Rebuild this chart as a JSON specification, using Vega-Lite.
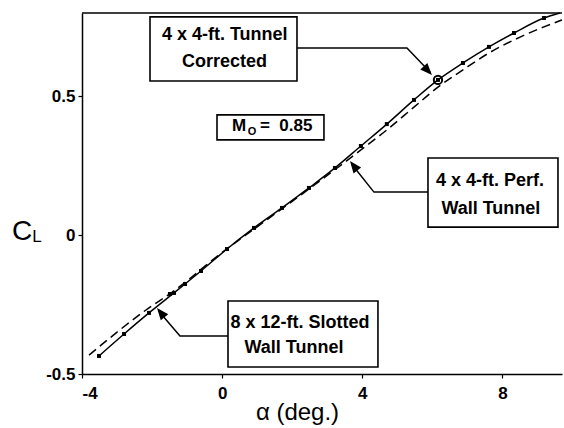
{
  "$schema": "https://vega.github.io/schema/vega-lite/v6.json",
  "width": 480,
  "height": 361,
  "autosize": {"type": "none"},
  "padding": {"left": 82, "top": 13, "right": 2, "bottom": 54},
  "background": "white",
  "config": {
    "view": {"stroke": null},
    "axis": {
      "grid": false,
      "domainColor": "black",
      "domainWidth": 1.5,
      "tickColor": "black",
      "tickWidth": 1.2,
      "tickSize": 4,
      "labelColor": "black",
      "labelFont": "Liberation Sans",
      "labelFontWeight": "bold",
      "labelFontSize": 17
    }
  },
  "datasets": {
    "perf_line": [
      {"a": -3.515, "cl": -0.435}, {"a": -2.8, "cl": -0.356}, {"a": -2.088, "cl": -0.28},
      {"a": -1.374, "cl": -0.208}, {"a": -1.06, "cl": -0.176}, {"a": -0.604, "cl": -0.129},
      {"a": 0.138, "cl": -0.05}, {"a": 0.909, "cl": 0.026}, {"a": 1.708, "cl": 0.098},
      {"a": 2.478, "cl": 0.17}, {"a": 3.22, "cl": 0.242}, {"a": 3.96, "cl": 0.321},
      {"a": 4.7, "cl": 0.4}, {"a": 5.475, "cl": 0.487}, {"a": 6.16, "cl": 0.559},
      {"a": 6.873, "cl": 0.62}, {"a": 7.615, "cl": 0.678}, {"a": 8.33, "cl": 0.728},
      {"a": 9.185, "cl": 0.782}, {"a": 9.64, "cl": 0.8}
    ],
    "perf_pts": [
      {"a": -3.515, "cl": -0.435}, {"a": -2.8, "cl": -0.356}, {"a": -2.088, "cl": -0.28},
      {"a": -1.49, "cl": -0.212}, {"a": -1.374, "cl": -0.208}, {"a": -1.06, "cl": -0.176}, {"a": -0.604, "cl": -0.129},
      {"a": 0.138, "cl": -0.05}, {"a": 0.909, "cl": 0.026}, {"a": 1.708, "cl": 0.098},
      {"a": 2.478, "cl": 0.17}, {"a": 3.22, "cl": 0.242}, {"a": 3.96, "cl": 0.321},
      {"a": 4.7, "cl": 0.4}, {"a": 5.475, "cl": 0.487}, {"a": 6.16, "cl": 0.559},
      {"a": 6.873, "cl": 0.62}, {"a": 7.615, "cl": 0.678}, {"a": 8.33, "cl": 0.728},
      {"a": 9.185, "cl": 0.782}
    ],
    "slotted": [
      {"a": -3.8, "cl": -0.432}, {"a": -2.09, "cl": -0.262}, {"a": -1.4, "cl": -0.203},
      {"a": 0, "cl": -0.062}, {"a": 1, "cl": 0.03}, {"a": 2, "cl": 0.122},
      {"a": 3, "cl": 0.215}, {"a": 3.96, "cl": 0.307}, {"a": 4.7, "cl": 0.379},
      {"a": 5.475, "cl": 0.461}, {"a": 6.16, "cl": 0.533}, {"a": 6.873, "cl": 0.595},
      {"a": 7.615, "cl": 0.656}, {"a": 8.33, "cl": 0.703}, {"a": 9.185, "cl": 0.75},
      {"a": 9.7, "cl": 0.775}
    ],
    "arrows": [
      {"arrow": 1, "k": 1, "a": 2.136, "cl": 0.674}, {"arrow": 1, "k": 2, "a": 5.275, "cl": 0.674}, {"arrow": 1, "k": 3, "a": 5.95, "cl": 0.585},
      {"arrow": 2, "k": 1, "a": 5.875, "cl": 0.155}, {"arrow": 2, "k": 2, "a": 4.333, "cl": 0.155}, {"arrow": 2, "k": 3, "a": 3.7, "cl": 0.255},
      {"arrow": 3, "k": 1, "a": 0.167, "cl": -0.363}, {"arrow": 3, "k": 2, "a": -1.203, "cl": -0.363}, {"arrow": 3, "k": 3, "a": -1.82, "cl": -0.272}
    ],
    "boxes": [
      {"a": -2.059, "a2": 2.136, "cl": 0.786, "cl2": 0.555},
      {"a": -0.147, "a2": 2.906, "cl": 0.433, "cl2": 0.343},
      {"a": 5.875, "a2": 9.585, "cl": 0.278, "cl2": 0.029},
      {"a": 0.167, "a2": 4.447, "cl": -0.237, "cl2": -0.475}
    ],
    "boxtext": [
      {"a": 0.075, "cl": 0.721, "txt": "4 x 4-ft. Tunnel"},
      {"a": 0.07, "cl": 0.624, "txt": "Corrected"},
      {"a": 7.645, "cl": 0.195, "txt": "4 x 4-ft. Perf."},
      {"a": 7.67, "cl": 0.094, "txt": "Wall Tunnel"},
      {"a": 2.22, "cl": -0.316, "txt": "8 x 12-ft. Slotted"},
      {"a": 2.05, "cl": -0.406, "txt": "Wall Tunnel"}
    ]
  },
  "encoding": {
    "x": {
      "field": "a", "type": "quantitative",
      "scale": {"domain": [-4, 9.7], "nice": false, "zero": false},
      "axis": {
        "values": [-4, 0, 4, 8],
        "labelExpr": "'' + datum.value",
        "labelPadding": 7,
        "title": "α (deg.)",
        "titleFont": "Liberation Sans",
        "titleFontWeight": "normal",
        "titleFontSize": 24,
        "titleColor": "black",
        "titleX": 215,
        "titleY": 45,
        "titleBaseline": "alphabetic"
      }
    },
    "y": {
      "field": "cl", "type": "quantitative",
      "scale": {"domain": [-0.5, 0.8], "nice": false, "zero": false},
      "axis": {
        "values": [-0.5, 0, 0.5],
        "labelExpr": "'' + datum.value",
        "labelPadding": 3,
        "title": null
      }
    }
  },
  "layer": [
    {
      "data": {"values": [{"a": -4, "a2": 9.7, "cl": 0.8}]},
      "mark": {"type": "rule", "color": "black", "strokeWidth": 1.5},
      "encoding": {"x2": {"field": "a2"}}
    },
    {
      "data": {"name": "slotted"},
      "mark": {"type": "line", "color": "black", "strokeWidth": 1.5, "strokeDash": [9, 5], "interpolate": "monotone"}
    },
    {
      "data": {"name": "perf_line"},
      "mark": {"type": "line", "color": "black", "strokeWidth": 1.5, "interpolate": "monotone"}
    },
    {
      "data": {"name": "perf_pts"},
      "mark": {"type": "point", "shape": "square", "filled": true, "color": "black", "size": 16, "opacity": 1}
    },
    {
      "data": {"values": [{"a": 6.16, "cl": 0.559}]},
      "mark": {"type": "point", "shape": "circle", "filled": false, "color": "black", "strokeWidth": 2, "size": 70, "opacity": 1}
    },
    {
      "data": {"name": "arrows"},
      "mark": {"type": "line", "color": "black", "strokeWidth": 1.5},
      "encoding": {"detail": {"field": "arrow"}, "order": {"field": "k", "type": "quantitative"}}
    },
    {
      "data": {"values": [{"a": 5.989, "cl": 0.577}]},
      "mark": {"type": "point", "shape": "M0,0L-0.8,2L0.8,2Z", "filled": true, "color": "black", "size": 144, "angle": 137, "opacity": 1}
    },
    {
      "data": {"values": [{"a": 3.648, "cl": 0.267}]},
      "mark": {"type": "point", "shape": "M0,0L-0.8,2L0.8,2Z", "filled": true, "color": "black", "size": 144, "angle": -38, "opacity": 1}
    },
    {
      "data": {"values": [{"a": -1.86, "cl": -0.262}]},
      "mark": {"type": "point", "shape": "M0,0L-0.8,2L0.8,2Z", "filled": true, "color": "black", "size": 144, "angle": -39, "opacity": 1}
    },
    {
      "data": {"name": "boxes"},
      "mark": {"type": "rect", "fill": "white", "stroke": "black", "strokeWidth": 1.6},
      "encoding": {"x2": {"field": "a2"}, "y2": {"field": "cl2"}}
    },
    {
      "data": {"name": "boxtext"},
      "mark": {"type": "text", "font": "Liberation Sans", "fontWeight": "bold", "fontSize": 18, "color": "black", "align": "center", "baseline": "middle"},
      "encoding": {"text": {"field": "txt"}}
    },
    {
      "data": {"values": [{"a": 0.281, "cl": 0.393, "txt": "M"}]},
      "mark": {"type": "text", "font": "Liberation Sans", "fontWeight": "bold", "fontSize": 17, "color": "black", "align": "left", "baseline": "middle"},
      "encoding": {"text": {"field": "txt"}}
    },
    {
      "data": {"values": [{"a": 0.73, "cl": 0.372, "txt": "O"}]},
      "mark": {"type": "text", "font": "Liberation Sans", "fontWeight": "bold", "fontSize": 11, "color": "black", "align": "left", "baseline": "middle"},
      "encoding": {"text": {"field": "txt"}}
    },
    {
      "data": {"values": [{"a": 1.08, "cl": 0.393, "txt": "= \u00a00.85"}]},
      "mark": {"type": "text", "font": "Liberation Sans", "fontWeight": "bold", "fontSize": 17, "color": "black", "align": "left", "baseline": "middle"},
      "encoding": {"text": {"field": "txt"}}
    },
    {
      "data": {"values": [{"a": -5.712, "cl": 0.0114, "txt": "C"}]},
      "mark": {"type": "text", "font": "Liberation Sans", "fontSize": 28, "color": "black", "align": "center", "baseline": "middle"},
      "encoding": {"text": {"field": "txt"}}
    },
    {
      "data": {"values": [{"a": -5.284, "cl": -0.007, "txt": "L"}]},
      "mark": {"type": "text", "font": "Liberation Sans", "fontSize": 17, "color": "black", "align": "center", "baseline": "middle"},
      "encoding": {"text": {"field": "txt"}}
    }
  ]
}
